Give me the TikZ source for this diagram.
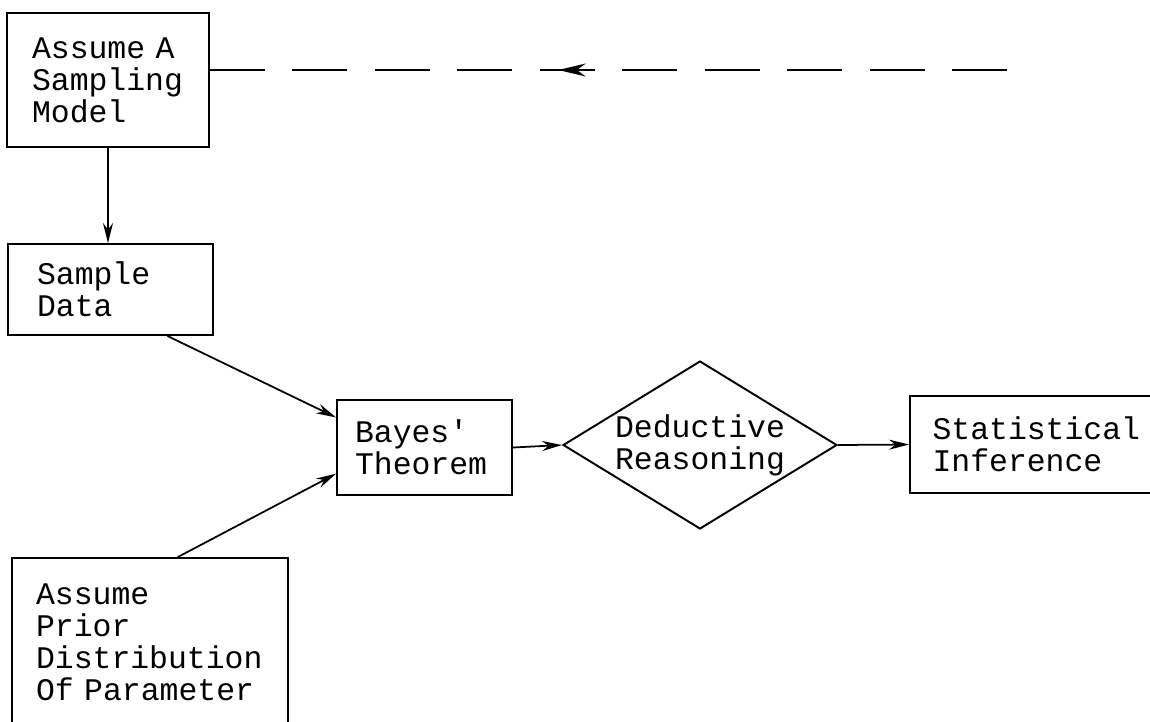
\documentclass[tikz,border=0pt]{standalone}
\usepackage{fontspec}
\newfontfamily\flowfont{Liberation Mono}
\usepackage{tikz}
\usetikzlibrary{arrows.meta, positioning, calc, shapes.geometric}
\usetikzlibrary{decorations.markings}

\begin{document}
\begin{tikzpicture}[
    >={Stealth[length=0.4cm, width=0.2cm]},
    x=0.02cm, y=-0.02cm,
    box/.style={draw, rectangle, line width=1.1pt, inner sep=0pt, align=left,
                font=\flowfont\fontsize{17.9pt}{18.2pt}\selectfont},
    decision/.style={draw, diamond, aspect=1.63, line width=1.1pt, inner sep=0pt, align=center,
                font=\flowfont\fontsize{17.9pt}{18.2pt}\selectfont},
    flow/.style={->, line width=1pt},
    feedback/.style={line width=0.9pt, dash pattern=on 1.1cm off 0.55cm,
                decoration={markings, mark=at position 0.43 with
                    {\arrowreversed[solid]{Stealth[length=0.55cm, width=0.26cm]}}},
                postaction={decorate}}
]
    \useasboundingbox (0,0) rectangle (1150,721);

    % ==================== BOXES ====================
    \node[box, minimum width=4.04cm, minimum height=2.68cm, text width=3.04cm] (model) at (108,80)
        {Assume A\\Sampling\\Model};
    \node[box, minimum width=4.1cm, minimum height=1.82cm, text width=2.94cm] (data) at (110.5,289.5)
        {Sample\\Data};
    \node[box, minimum width=5.52cm, minimum height=3.38cm, text width=4.56cm] (prior) at (150,642.5)
        {Assume\\Prior\\Distribution\\Of Parameter};
    \node[box, minimum width=3.5cm, minimum height=1.9cm, text width=2.78cm] (bayes) at (424.5,447.5)
        {Bayes'\\Theorem};
    \node[decision, minimum width=5.48cm, minimum height=3.36cm] (deduct) at (700,445)
        {Deductive\\Reasoning};
    \node[box, minimum width=5.1cm, minimum height=1.94cm, text width=4.2cm] (infer) at (1037.5,444.5)
        {Statistical\\Inference};

    % ==================== CONNECTORS ====================
    % Model down to data
    \draw[flow] (model.south) -- (model.south |- data.north);
    % Into Bayes' theorem
    \draw[flow] ($(data.south)!0.55!(data.south east)$) -- ($(bayes.north west)!0.19!(bayes.south west)$);
    \draw[flow] ($(prior.north)!0.2!(prior.north east)$) -- ($(bayes.north west)!0.77!(bayes.south west)$);
    % Along the main line
    \draw[flow] (bayes.east) -- (deduct.west);
    \draw[flow] (deduct.east) -- (infer.west);

    % Dashed return line, arrow pointing back to the model
    \coordinate (fb) at (1020,70);
    \draw[feedback] (fb -| model.east) -- (fb);
\end{tikzpicture}
\end{document}
